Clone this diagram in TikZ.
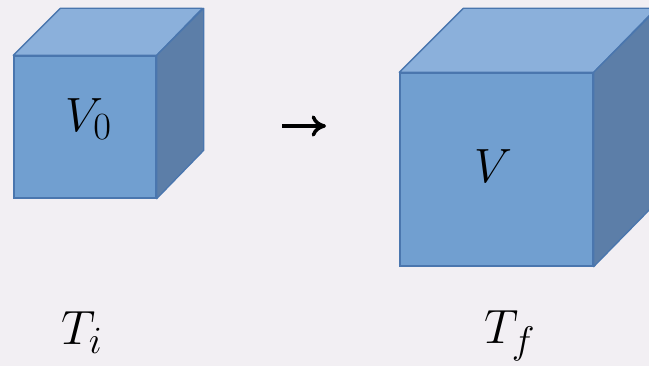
\documentclass[tikz,border=0pt]{standalone}
\usetikzlibrary{arrows.meta, positioning}
\definecolor{fondoGris}{HTML}{F2EFF3}
\definecolor{cuboBorde}{HTML}{4A76AE}
\definecolor{cuboFrente}{HTML}{719FD0}
\definecolor{cuboTapa}{HTML}{8BB0DB}
\definecolor{cuboLado}{HTML}{5C7EA8}
\newcommand{\mate}[1]{\scalebox{1.45}{$#1$}}
\newcommand{\subind}[2][3pt]{\raisebox{#1}{\scalebox{0.8}{$\scriptstyle #2$}}}
\tikzset{
  caraFrente/.style={
    draw=cuboBorde, line width=1pt, fill=cuboFrente, inner sep=0pt
  },
  caraTapa/.style={draw=cuboBorde, line width=1pt, fill=cuboTapa, line join=round},
  caraLado/.style={draw=cuboBorde, line width=1pt, fill=cuboLado, line join=round},
  etiquetaMate/.style={inner sep=0pt, text=black},
  flecha/.style={-{Computer Modern Rightarrow[length=3.8mm, width=5.6mm]}, line width=2.6pt, black},
}
\begin{document}
\begin{tikzpicture}[x=0.75pt, y=-0.75pt, every node/.style={font=\fontsize{36}{40}\selectfont}]
    \useasboundingbox (0,0) rectangle (649,366);
    \fill[fondoGris] (0,0) rectangle (649,366);

    % Inicial
    \node[caraFrente, minimum size=106.5pt] (v0) at (85,127) {};
    \draw[caraTapa] (v0.north west) -- ++(47,-47) -- ++(142,0) -- (v0.north east) -- cycle;
    \draw[caraLado] (v0.north east) -- ++(47,-47) -- ++(0,142) -- (v0.south east) -- cycle;
    \node[etiquetaMate] (lv0) at (89,122) {\mate{V_{\subind{0}}}};

    % Final
    \node[caraFrente, minimum size=144.75pt] (vf) at (496.5,169.5) {};
    \draw[caraTapa] (vf.north west) -- ++(64,-64) -- ++(193,0) -- (vf.north east) -- cycle;
    \draw[caraLado] (vf.north east) -- ++(64,-64) -- ++(0,193) -- (vf.south east) -- cycle;
    \node[etiquetaMate] (lvf) at (493.5,166.5) {\mate{V}};

    \coordinate (flechaA) at (282,126);
    \coordinate (flechaB) at (326,126);
    \draw[flecha] (flechaA)--(flechaB);
    \node[etiquetaMate] (ti) at (82,334) {\mate{T_{\subind[1.5pt]{i}}}};
    \node[etiquetaMate] (tf) at (510,336) {\mate{T_{\subind[1.5pt]{f}}}};
  \end{tikzpicture}
\end{document}
